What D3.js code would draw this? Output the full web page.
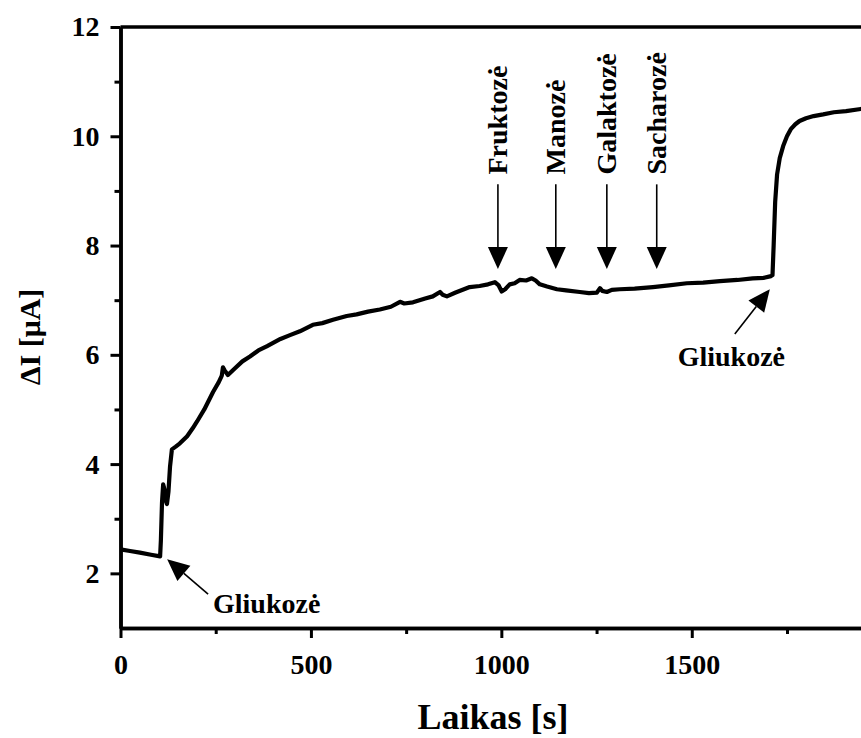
<!DOCTYPE html>
<html>
<head>
<meta charset="utf-8">
<script src="https://cdn.jsdelivr.net/npm/d3@7/dist/d3.min.js"></script>
<style>
body {margin:0; background:#fff;}
text {font-family:"Liberation Serif","Times New Roman",serif; font-weight:bold; fill:#000;}
</style>
</head>
<body>
<svg id="chart"></svg>
<script>
// time [s] and current change [uA]
var timeS = [0,25,51,80,104,106,109,112,115,118,122,126,130,135,145,156,175,190,201,220,
  243,258,266,269,273,282,300,320,340,362,385,420,445,471,505,530,558,594,620,650,
  681,710,734,745,768,800,820,839,846,857,880,917,943,965,983,993,1001,1010,1022,1035,
  1048,1065,1080,1090,1101,1120,1146,1170,1206,1230,1251,1259,1265,1277,1290,1311,1350,1398,1440,1487,
  1530,1574,1620,1660,1690,1708,1712,1715,1719,1724,1731,1740,1750,1760,1772,1783,1800,1820,1845,1873,
  1905,1944,1970]
var deltaI = [2.44,2.41,2.38,2.34,2.31,2.6,3.3,3.63,3.55,3.35,3.27,3.5,3.95,4.27,4.32,4.38,4.51,4.66,4.78,5.0,
  5.32,5.5,5.62,5.77,5.72,5.63,5.75,5.88,5.97,6.08,6.16,6.29,6.36,6.43,6.55,6.58,6.64,6.71,6.74,6.79,
  6.83,6.88,6.97,6.94,6.96,7.03,7.07,7.15,7.10,7.07,7.14,7.24,7.26,7.29,7.33,7.27,7.16,7.2,7.29,7.31,
  7.37,7.36,7.40,7.36,7.29,7.25,7.2,7.18,7.15,7.13,7.14,7.22,7.17,7.15,7.19,7.2,7.21,7.24,7.27,7.31,
  7.32,7.35,7.37,7.40,7.41,7.44,7.46,8.0,8.8,9.3,9.6,9.82,10.0,10.13,10.22,10.28,10.33,10.37,10.40,10.44,
  10.46,10.5,10.5]

var sugarNames = ['Fruktozė','Manozė','Galaktozė','Sacharozė']
var sugarTimes = [991,1143,1277,1408]
var glucoseLabel = 'Gliukozė'
var glucoseTimes = [112,1705]

var xTicks = [0,500,1000,1500]
var xMinor = [250,750,1250,1750]
var yTicks = [2,4,6,8,10,12]
var yMinor = [3,5,7,9,11]

var W = 861, H = 738
var mLeft = 120.5, mRight = 870, mTop = 27, mBottom = 628

var svg = d3.select('#chart')
    .attr('width', W)
    .attr('height', H)

var x = d3.scaleLinear().domain([0,1968]).range([mLeft,mRight])
var y = d3.scaleLinear().domain([1,12]).range([mBottom,mTop])

// minor ticks first
svg.append('g')
    .attr('transform','translate(0,'+mBottom+')')
    .call(d3.axisBottom(x).tickValues(xMinor).tickSize(6).tickSizeOuter(0).tickFormat(''))
svg.append('g')
    .attr('transform','translate('+mLeft+',0)')
    .call(d3.axisLeft(y).tickValues(yMinor).tickSize(6).tickSizeOuter(0).tickFormat(''))

var xAxis = svg.append('g')
    .attr('transform','translate(0,'+mBottom+')')
    .call(d3.axisBottom(x).tickValues(xTicks).tickSize(10).tickSizeOuter(0).tickPadding(16).tickFormat(d3.format('d')))
var yAxis = svg.append('g')
    .attr('transform','translate('+mLeft+',0)')
    .call(d3.axisLeft(y).tickValues(yTicks).tickSize(10).tickSizeOuter(0).tickPadding(11).tickFormat(d3.format('d')))

svg.selectAll('.domain').attr('stroke-width',3.5)
svg.selectAll('.tick line').attr('stroke-width',3)
svg.selectAll('.tick text').style('font-size','28px')

// frame
svg.append('line')
    .attr('x1',mLeft).attr('x2',mRight)
    .attr('y1',mTop).attr('y2',mTop)
    .attr('stroke','#000').attr('stroke-width',3.5)
svg.append('line')
    .attr('x1',mRight).attr('x2',mRight)
    .attr('y1',mTop).attr('y2',mBottom)
    .attr('stroke','#000').attr('stroke-width',3.5)

// trace
var pts = timeS.map(function(t,i){return [t, deltaI[i]]})
svg.append('path')
    .datum(pts)
    .attr('fill','none')
    .attr('stroke','#000')
    .attr('stroke-width',4.2)
    .attr('stroke-linejoin','round')
    .attr('d', d3.line().x(function(d){return x(d[0])}).y(function(d){return y(d[1])}))

function arrow(x1,y1,x2,y2){
    var ang = Math.atan2(y2-y1,x2-x1), len = 22, half = 10
    var bx = x2 - len*Math.cos(ang), by = y2 - len*Math.sin(ang)
    svg.append('line')
	.attr('x1',x1).attr('y1',y1).attr('x2',bx).attr('y2',by)
	.attr('stroke','#000').attr('stroke-width',1.6)
    svg.append('path')
	.attr('d','M'+x2+','+y2+'L'+(bx+half*Math.sin(ang))+','+(by-half*Math.cos(ang))+
	      'L'+(bx-half*Math.sin(ang))+','+(by+half*Math.cos(ang))+'Z')
	.attr('fill','#000')
}

// sugar additions: down arrows with vertical labels
sugarTimes.forEach(function(t,i){
    var ax = x(t)
    arrow(ax, y(9.12), ax, y(7.57))
    svg.append('text')
	.attr('transform','translate('+(ax+9)+','+y(9.3)+') rotate(-90)')
	.attr('text-anchor','start')
	.style('font-size','28px')
	.text(sugarNames[i])
})

// glucose additions
arrow(x(230), y(1.62), x(glucoseTimes[0])+4, y(2.26))
svg.append('text').attr('x',x(243)).attr('y',y(1.28)).style('font-size','28px').text(glucoseLabel)
arrow(x(1613), y(6.38), x(glucoseTimes[1]), y(7.2))
svg.append('text').attr('x',x(1463)).attr('y',y(5.8)).style('font-size','28px').text(glucoseLabel)

// axis titles
svg.append('text')
    .attr('x',493).attr('y',729)
    .attr('text-anchor','middle')
    .style('font-size','36px')
    .text('Laikas [s]')
svg.append('text')
    .attr('transform','translate(40,337) rotate(-90)')
    .attr('text-anchor','middle')
    .style('font-size','30px')
    .text('ΔI [μA]')
</script>
</body>
</html>
